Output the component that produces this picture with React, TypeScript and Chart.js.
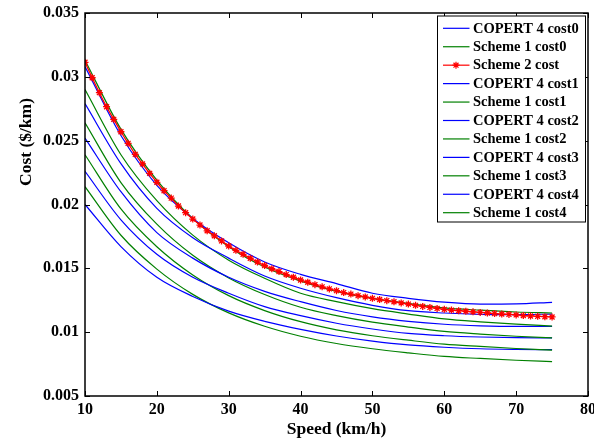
import React, { useEffect, useRef } from "react";
import { Chart, registerables } from "chart.js";

Chart.register(...registerables);

// Speeds (km/h)
const speedsCurves = [10, 15, 20, 25, 30, 35, 40, 45, 50, 55, 60, 65, 70, 75];
const speedsScheme2 = [
  10, 11, 12, 13, 14, 15, 16, 17, 18, 19, 20, 21, 22, 23, 24, 25, 26, 27, 28, 29, 30,
  31, 32, 33, 34, 35, 36, 37, 38, 39, 40, 41, 42, 43, 44, 45, 46, 47, 48, 49, 50,
  51, 52, 53, 54, 55, 56, 57, 58, 59, 60, 61, 62, 63, 64, 65, 66, 67, 68, 69, 70,
  71, 72, 73, 74, 75,
];

// Costs ($/km)
const copert0 = [0.0308, 0.0254, 0.0215, 0.0189, 0.0170, 0.0155, 0.01453, 0.0138, 0.01305, 0.01265, 0.01235, 0.0122, 0.01222, 0.01234];
const scheme1c0 = [0.0313, 0.0259, 0.0219, 0.0189, 0.0167, 0.0151, 0.0140, 0.0132, 0.01265, 0.01225, 0.0119, 0.01172, 0.01158, 0.0115];
const copert1 = [0.0279, 0.0232, 0.0197, 0.0174, 0.0158, 0.0144, 0.01344, 0.0127, 0.0121, 0.01168, 0.0115, 0.0114, 0.01138, 0.01142];
const scheme1c1 = [0.0290, 0.0239, 0.0203, 0.0176, 0.01564, 0.01422, 0.01305, 0.01239, 0.01184, 0.01142, 0.01104, 0.01081, 0.01063, 0.01048];
const copert2 = [0.0252, 0.0210, 0.0178, 0.0158, 0.0143, 0.0132, 0.01239, 0.0117, 0.0112, 0.01085, 0.01062, 0.0105, 0.01045, 0.01046];
const scheme1c2 = [0.0264, 0.02172, 0.01846, 0.01602, 0.01425, 0.01295, 0.01195, 0.01129, 0.01078, 0.0104, 0.01006, 0.00985, 0.00968, 0.00955];
const copert3 = [0.0226, 0.0188, 0.0161, 0.0143, 0.01305, 0.0120, 0.01129, 0.0107, 0.01025, 0.0099, 0.00972, 0.00962, 0.00957, 0.00955];
const scheme1c3 = [0.0239, 0.01965, 0.01669, 0.01448, 0.01286, 0.01169, 0.01082, 0.01018, 0.00972, 0.00937, 0.00906, 0.00888, 0.00872, 0.0086];
const copert4 = [0.0200, 0.0167, 0.0143, 0.0128, 0.01165, 0.01085, 0.01022, 0.0097, 0.0093, 0.0090, 0.00882, 0.0087, 0.00865, 0.00863];
const scheme1c4 = [0.0214, 0.01759, 0.01494, 0.01296, 0.01151, 0.01046, 0.00968, 0.00911, 0.0087, 0.00838, 0.0081, 0.00794, 0.0078, 0.00769];
const scheme2 = [
  0.03114, 0.02993, 0.02876, 0.02766, 0.02667, 0.0257, 0.02479, 0.02393, 0.02318, 0.02244, 0.02174,
  0.02108, 0.0205, 0.01988, 0.01936, 0.01886, 0.01839, 0.01794, 0.01755, 0.01715, 0.01675,
  0.01641, 0.0161, 0.01579, 0.0155, 0.01522, 0.01497, 0.01475, 0.01451, 0.0143, 0.01409,
  0.01391, 0.01372, 0.01355, 0.01339, 0.01325, 0.0131, 0.01298, 0.01286, 0.01276, 0.01265,
  0.01256, 0.01247, 0.01238, 0.01229, 0.0122, 0.0121, 0.01202, 0.01194, 0.01186, 0.01179,
  0.01173, 0.01168, 0.01164, 0.01159, 0.01155, 0.0115, 0.01146, 0.01142, 0.01139, 0.01135,
  0.0113, 0.01127, 0.01124, 0.01121, 0.01119,
];

const seriesLabels = [
  "COPERT 4 cost0", "Scheme 1 cost0", "Scheme 2 cost",
  "COPERT 4 cost1", "Scheme 1 cost1", "COPERT 4 cost2", "Scheme 1 cost2",
  "COPERT 4 cost3", "Scheme 1 cost3", "COPERT 4 cost4", "Scheme 1 cost4",
];
const xTickValues = [10, 20, 30, 40, 50, 60, 70, 80];
const yTickValues = [0.005, 0.01, 0.015, 0.02, 0.025, 0.03, 0.035];
const yTickLabels = ["0.005", "0.01", "0.015", "0.02", "0.025", "0.03", "0.035"];
const xTitle = "Speed (km/h)";
const yTitle = "Cost ($/km)";

const BLUE = "#0000ff";
const GREEN = "#008000";
const RED = "#ff0000";
const FONT = "'Times New Roman', 'Liberation Serif', serif";

const pts = (xs: number[], ys: number[]) => xs.map((x, i) => ({ x, y: ys[i] }));

const boxPlugin = {
  id: "boxPlugin",
  afterDraw(chart: any) {
    const { ctx, chartArea } = chart;
    const { left, right, top, bottom } = chartArea;
    const xs = chart.scales.x;
    const ys = chart.scales.y;
    ctx.save();
    ctx.strokeStyle = "#000";
    ctx.lineWidth = 1.5;
    ctx.strokeRect(left, top, right - left, bottom - top);
    ctx.lineWidth = 1;
    const tl = 5;
    ctx.beginPath();
    xTickValues.forEach((v) => {
      const px = Math.round(xs.getPixelForValue(v)) + 0.5;
      ctx.moveTo(px, bottom);
      ctx.lineTo(px, bottom - tl);
      ctx.moveTo(px, top);
      ctx.lineTo(px, top + tl);
    });
    yTickValues.forEach((v) => {
      const py = Math.round(ys.getPixelForValue(v)) + 0.5;
      ctx.moveTo(left, py);
      ctx.lineTo(left + tl, py);
      ctx.moveTo(right, py);
      ctx.lineTo(right - tl, py);
    });
    ctx.stroke();

    // axis titles
    ctx.fillStyle = "#000";
    ctx.font = `bold 17.5px ${FONT}`;
    ctx.textAlign = "center";
    ctx.textBaseline = "middle";
    ctx.fillText(xTitle, (left + right) / 2, 429);
    ctx.save();
    ctx.translate(26, 142);
    ctx.rotate(-Math.PI / 2);
    ctx.fillText(yTitle, 0, 0);
    ctx.restore();

    // legend
    const lx = 437.5, ly = 16, lw = 148, lh = 206;
    ctx.fillStyle = "#fff";
    ctx.fillRect(lx, ly, lw, lh);
    ctx.strokeStyle = "#000";
    ctx.lineWidth = 1;
    ctx.strokeRect(lx, ly, lw, lh);
    ctx.font = `bold 14.5px ${FONT}`;
    ctx.textAlign = "left";
    ctx.textBaseline = "middle";
    chart.data.datasets.forEach((ds: any, i: number) => {
      const cy = 28.3 + i * 18.44;
      ctx.strokeStyle = ds.borderColor;
      ctx.lineWidth = 1.2;
      ctx.beginPath();
      ctx.moveTo(443, cy);
      ctx.lineTo(469.5, cy);
      ctx.stroke();
      if (ds.pointStyle === "star") {
        const mx = 456, r = 3.5;
        ctx.beginPath();
        ctx.moveTo(mx - r, cy); ctx.lineTo(mx + r, cy);
        ctx.moveTo(mx, cy - r); ctx.lineTo(mx, cy + r);
        const d = r * 0.7071;
        ctx.moveTo(mx - d, cy - d); ctx.lineTo(mx + d, cy + d);
        ctx.moveTo(mx - d, cy + d); ctx.lineTo(mx + d, cy - d);
        ctx.stroke();
      }
      ctx.fillStyle = "#000";
      ctx.fillText(ds.label, 473, cy + 0.5);
    });
    ctx.restore();
  },
};

export default function App() {
  const ref = useRef<HTMLCanvasElement | null>(null);
  useEffect(() => {
    if (!ref.current) return;
    const curves = [copert0, scheme1c0, null, copert1, scheme1c1, copert2, scheme1c2, copert3, scheme1c3, copert4, scheme1c4];
    const datasets = seriesLabels.map((label, i) => {
      if (i === 2) {
        return {
          label,
          data: pts(speedsScheme2, scheme2),
          borderColor: RED,
          backgroundColor: RED,
          borderWidth: 1.3,
          pointStyle: "star",
          pointRadius: 3.5,
          pointBorderWidth: 1.3,
          pointBorderColor: RED,
          cubicInterpolationMode: "monotone" as const,
          order: 0,
        };
      }
      const color = label.startsWith("COPERT") ? BLUE : GREEN;
      return {
        label,
        data: pts(speedsCurves, curves[i] as number[]),
        borderColor: color,
        backgroundColor: color,
        borderWidth: 1.2,
        pointRadius: 0,
        cubicInterpolationMode: "monotone" as const,
        order: 1,
      };
    });
    const tickFont = { family: FONT, size: 16, weight: "bold" as const };
    const chart = new Chart(ref.current, {
      type: "line",
      data: { datasets: datasets as any },
      options: {
        animation: false,
        responsive: false,
        maintainAspectRatio: false,
        devicePixelRatio: 1,
        layout: { padding: { top: 13, right: 6, left: 0, bottom: 0 } },
        plugins: { legend: { display: false }, tooltip: { enabled: false } },
        scales: {
          x: {
            type: "linear",
            min: 10,
            max: 80,
            afterBuildTicks: (s: any) => { s.ticks = xTickValues.map((v) => ({ value: v })); },
            afterFit: (s: any) => { s.height = 42; s.paddingLeft = 0; s.paddingRight = 0; },
            ticks: { font: tickFont, color: "#000", padding: 4, maxRotation: 0, autoSkip: false, callback: (v: any) => String(v) },
            grid: { display: false, drawTicks: false },
            border: { display: false },
          },
          y: {
            type: "linear",
            min: 0.005,
            max: 0.035,
            afterBuildTicks: (s: any) => { s.ticks = yTickValues.map((v) => ({ value: v })); },
            afterFit: (s: any) => { s.width = 85; s.paddingTop = 0; s.paddingBottom = 0; },
            ticks: {
              font: tickFont,
              color: "#000",
              padding: 6,
              autoSkip: false,
              callback: (v: any) => {
                const idx = yTickValues.findIndex((t) => Math.abs(t - v) < 1e-9);
                return idx >= 0 ? yTickLabels[idx] : "";
              },
            },
            grid: { display: false, drawTicks: false },
            border: { display: false },
          },
        },
      },
      plugins: [boxPlugin],
    });
    return () => chart.destroy();
  }, []);
  return (
    <div style={{ position: "absolute", left: 0, top: 0, width: 594, height: 438, background: "#fff" }}>
      <canvas ref={ref} width={594} height={438} style={{ width: 594, height: 438, display: "block" }} />
    </div>
  );
}
